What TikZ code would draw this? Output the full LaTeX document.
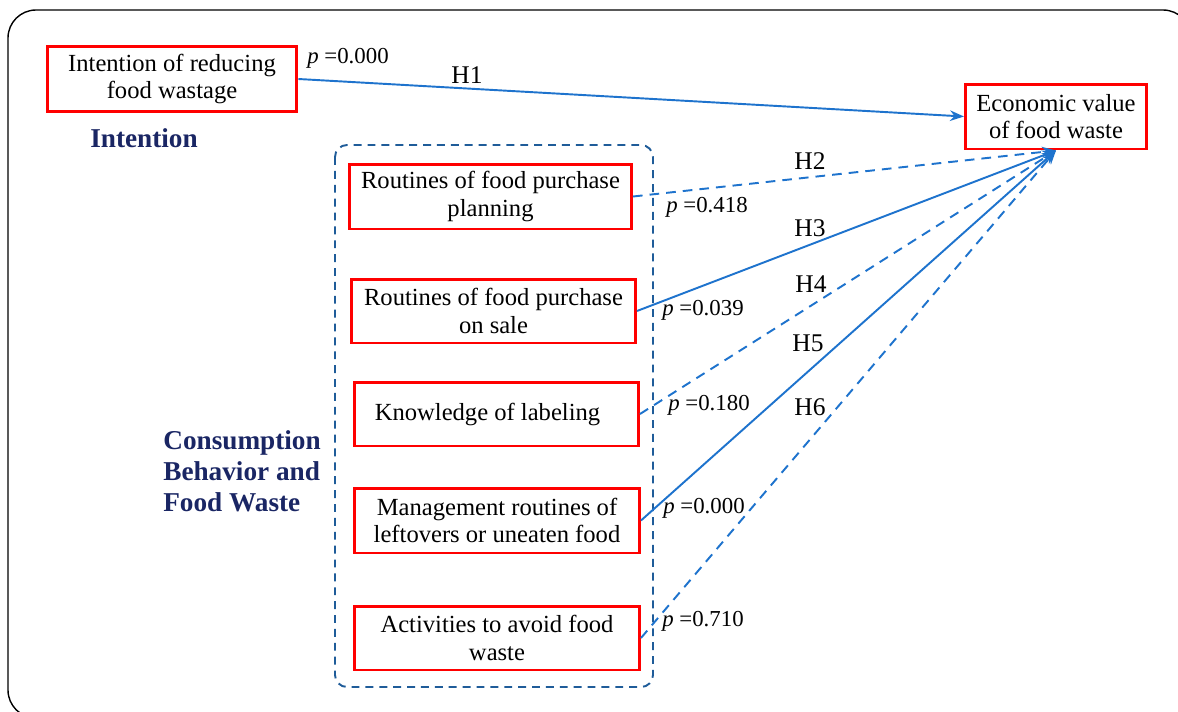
\documentclass[tikz,border=0pt]{standalone}
\usepackage{fontspec}
\setmainfont{Liberation Serif}
\usetikzlibrary{arrows.meta}
\definecolor{arrowblue}{RGB}{30,115,205}
\definecolor{groupblue}{RGB}{31,92,153}
\definecolor{navy}{RGB}{26,38,100}
\tikzset{
  redbox/.style={draw=red, line width=1.7pt, align=center, inner sep=0pt,
    font=\fontsize{14}{15.5}\selectfont},
  link/.style={draw=arrowblue, line width=1.1pt, -{Stealth[length=8pt,width=6pt]}},
  weak/.style={link, dash pattern=on 5.5pt off 4pt},
  hlabel/.style={font=\fontsize{14.5}{16}\selectfont, inner sep=0pt},
  plabel/.style={font=\fontsize{13}{15}\selectfont, inner sep=0pt},
  grouplabel/.style={text=navy, font=\fontsize{15.5}{17.6}\selectfont\bfseries, inner sep=0pt},
}
\begin{document}
\begin{tikzpicture}[x=0.02cm, y=-0.02cm]
\useasboundingbox (0,0) rectangle (1178,711);
\clip (0,0) rectangle (1178,711);
\draw[black, line width=0.8pt, rounded corners=0.56cm] (8,10) rectangle (1191,718);

% group frame
\draw[groupblue, line width=1.1pt, dash pattern=on 4.5pt off 3.4pt, rounded corners=0.24cm]
  (335,145) rectangle (653,687);

% nodes
\node[redbox, minimum width=5.0cm, minimum height=1.3cm] (A) at (172,79) {Intention of reducing\\food wastage};
\node[redbox, minimum width=3.62cm, minimum height=1.3cm] (T) at (1056,116.5) {Economic value\\of food waste};
\node[redbox, minimum width=5.64cm, minimum height=1.3cm] (B1) at (490.5,196.5) {Routines of food purchase\\planning};
\node[redbox, minimum width=5.68cm, minimum height=1.28cm] (B2) at (493.5,311) {Routines of food purchase\\on sale};
\node[redbox, minimum width=5.68cm, minimum height=1.28cm] (B3) at (496.5,414) {\hspace*{-0.36cm}Knowledge of labeling};
\node[redbox, minimum width=5.7cm, minimum height=1.3cm] (B4) at (497,520.5) {Management routines of\\leftovers or uneaten food};
\node[redbox, minimum width=5.7cm, minimum height=1.28cm] (B5) at (497,638) {Activities to avoid food\\waste};

% group labels
\node[grouplabel] (gi) at (144,138) {Intention};
\node[grouplabel, anchor=west, align=left] (gc) at (163,471) {Consumption\\Behavior and\\Food Waste};

% connectors
\draw[link] (A.east) -- (T.west);
\draw[weak] (B1.east) -- (T.south);
\draw[link] (B2.east) -- (T.south);
\draw[weak] (B3.east) -- (T.south);
\draw[link] (B4.east) -- (T.south);
\draw[weak] (B5.east) -- (T.south);

% labels
\node[hlabel] (h1) at (467,75) {H1};
\node[hlabel] (h2) at (810,161) {H2};
\node[hlabel] (h3) at (810,228) {H3};
\node[hlabel] (h4) at (811,284) {H4};
\node[hlabel] (h5) at (808,343) {H5};
\node[hlabel] (h6) at (810,407) {H6};
\node[plabel] (p1) at (348,58) {\textit{p} =0.000};
\node[plabel] (p2) at (707,207) {\textit{p} =0.418};
\node[plabel] (p3) at (703,310) {\textit{p} =0.039};
\node[plabel] (p4) at (709,405) {\textit{p} =0.180};
\node[plabel] (p5) at (704,508) {\textit{p} =0.000};
\node[plabel] (p6) at (703,621) {\textit{p} =0.710};
\end{tikzpicture}
\end{document}
